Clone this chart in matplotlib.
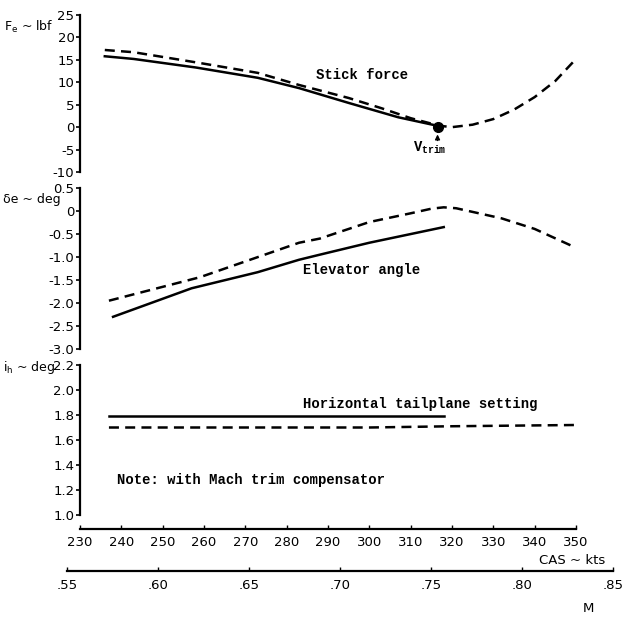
import matplotlib
matplotlib.use("Agg")
import matplotlib.pyplot as plt

# ---------------- data ----------------
cas_ticks = [230, 240, 250, 260, 270, 280, 290, 300, 310, 320, 330, 340, 350]
mach_ticks = [0.55, 0.60, 0.65, 0.70, 0.75, 0.80, 0.85]
mach_labels = [".55", ".60", ".65", ".70", ".75", ".80", ".85"]

force_ticks = [25, 20, 15, 10, 5, 0, -5, -10]
elev_ticks = [0.5, 0, -0.5, -1.0, -1.5, -2.0, -2.5, -3.0]
elev_labels = ["0.5", "0", "-0.5", "-1.0", "-1.5", "-2.0", "-2.5", "-3.0"]
tail_ticks = [2.2, 2.0, 1.8, 1.6, 1.4, 1.2, 1.0]

# Stick force
force_solid_cas = [236, 243, 258, 273, 283, 295, 307, 317]
force_solid = [15.8, 15.2, 13.3, 11.0, 8.7, 5.4, 2.2, 0.2]
force_dash_cas = [236, 243, 259, 273, 283, 295, 303, 310, 317, 320, 325, 330, 335, 340, 345, 350]
force_dash = [17.2, 16.7, 14.3, 12.1, 9.4, 6.5, 4.2, 2.0, 0.3, 0.0, 0.55, 1.8, 3.9, 6.7, 10.3, 15.2]
v_trim_cas = 316.5
v_trim_force = 0.0

# Elevator angle
elev_solid_cas = [238, 257, 273, 283, 288, 300, 318]
elev_solid = [-2.3, -1.68, -1.33, -1.06, -0.95, -0.69, -0.35]
elev_dash_cas = [237, 259, 283, 288, 300, 310, 315, 318, 321, 326, 332, 340, 350]
elev_dash = [-1.95, -1.44, -0.69, -0.6, -0.24, -0.05, 0.05, 0.08, 0.06, -0.04, -0.16, -0.39, -0.8]

# Horizontal tailplane setting
tail_solid_cas = [237, 318]
tail_solid = [1.795, 1.795]
tail_dash_cas = [237, 300, 320, 350]
tail_dash = [1.70, 1.70, 1.71, 1.72]

# ---------------- figure ----------------
W, H = 625, 619
fig = plt.figure(figsize=(W / 100, H / 100), dpi=100)

def fy(px):
    return 1 - px / H

x0, x1 = 80, 576
left = x0 / W
width = (x1 - x0) / W

tick_font = dict(family="DejaVu Sans", size=9.5)
lab_font = dict(family="DejaVu Sans", size=9)
ann_font = dict(family="Liberation Mono", size=10, weight="bold")

def make_panel(top_px, bot_px, ylim, ticks, labels):
    ax = fig.add_axes([left, fy(bot_px), width, (bot_px - top_px) / H])
    ax.set_xlim(230, 350)
    ax.set_ylim(*ylim)
    for s in ["top", "right", "bottom"]:
        ax.spines[s].set_visible(False)
    ax.spines["left"].set_linewidth(1.6)
    ax.set_xticks([])
    ax.set_yticks(ticks)
    ax.set_yticklabels(labels, fontdict=tick_font)
    ax.tick_params(axis="y", direction="out", length=3, width=1.2, pad=1)
    ax.patch.set_alpha(0)
    return ax

lw = 1.8
dash = (0, (4, 2.5))

# Top panel: stick force
ax1 = make_panel(15, 172, (-10, 25), force_ticks, [str(t) for t in force_ticks])
ax1.plot(force_solid_cas, force_solid, color="black", lw=lw)
ax1.plot(force_dash_cas, force_dash, color="black", lw=lw, linestyle=dash)
ax1.plot([v_trim_cas], [v_trim_force], "o", color="black", ms=7)
ax1.annotate("", xy=(v_trim_cas, -1.0), xytext=(v_trim_cas, -3.6),
             arrowprops=dict(arrowstyle="-|>", color="black", lw=1.0,
                             mutation_scale=7))
ax1.text(314.5, -4.6, r"V$_{\mathregular{trim}}$", ha="center", va="center", **ann_font)
ax1.text(287.1, 11.6, "Stick force", ha="left", va="center", **ann_font)
fig.text(4 / W, fy(27), r"F$_{\mathregular{e}}$ ~ lbf", ha="left", va="center",
         **lab_font)

# Middle panel: elevator angle
ax2 = make_panel(188, 349, (-3.0, 0.5), elev_ticks, elev_labels)
ax2.plot(elev_solid_cas, elev_solid, color="black", lw=lw)
ax2.plot(elev_dash_cas, elev_dash, color="black", lw=lw, linestyle=dash)
ax2.text(284, -1.28, "Elevator angle", ha="left", va="center", **ann_font)
fig.text(3 / W, fy(199), "δe ~ deg", ha="left", va="center", **lab_font)

# Bottom panel: tailplane setting
ax3 = make_panel(365, 515, (1.0, 2.2), tail_ticks, [f"{t:.1f}" for t in tail_ticks])
ax3.plot(tail_solid_cas, tail_solid, color="black", lw=lw)
ax3.plot(tail_dash_cas, tail_dash, color="black", lw=lw, linestyle=dash)
ax3.text(284, 1.89, "Horizontal tailplane setting", ha="left", va="center", **ann_font)
ax3.text(239, 1.28, "Note: with Mach trim compensator", ha="left", va="center", **ann_font)
fig.text(3 / W, fy(367), r"i$_{\mathregular{h}}$ ~ deg", ha="left", va="center",
         **lab_font)

# CAS axis
axc = fig.add_axes([left, fy(529), width, 0.0001])
axc.set_xlim(230, 350)
for s in ["top", "right", "left"]:
    axc.spines[s].set_visible(False)
axc.spines["bottom"].set_linewidth(1.6)
axc.set_yticks([])
axc.set_xticks(cas_ticks)
axc.set_xticklabels([str(t) for t in cas_ticks], fontdict=tick_font)
axc.tick_params(axis="x", direction="in", length=3, width=1.0, pad=5)
fig.text(605 / W, fy(560), "CAS ~ kts", ha="right", va="center", **tick_font)

# Mach axis
m0, m1 = 67, 613
axm = fig.add_axes([m0 / W, fy(571), (m1 - m0) / W, 0.0001])
axm.set_xlim(0.55, 0.85)
for s in ["top", "right", "left"]:
    axm.spines[s].set_visible(False)
axm.spines["bottom"].set_linewidth(1.6)
axm.set_yticks([])
axm.set_xticks(mach_ticks)
axm.set_xticklabels(mach_labels, fontdict=tick_font)
axm.tick_params(axis="x", direction="in", length=3, width=1.0, pad=6)
fig.text(588 / W, fy(608), "M", ha="center", va="center", **tick_font)

fig.savefig("out.png", dpi=100, facecolor="white")
